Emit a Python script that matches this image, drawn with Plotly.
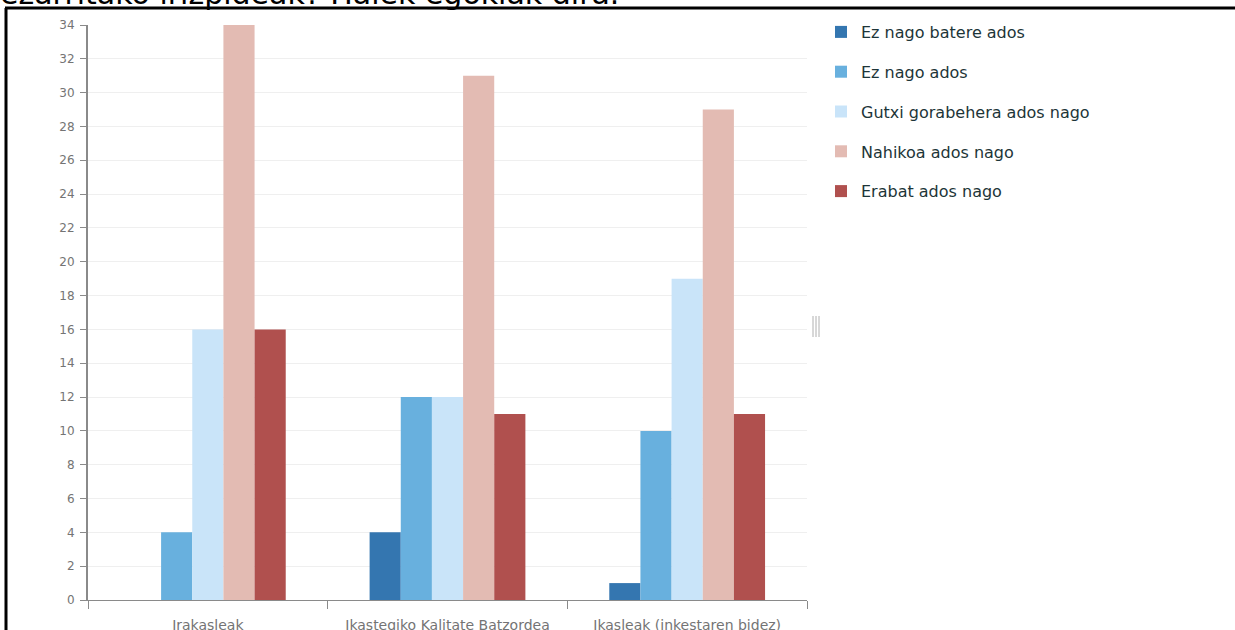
import plotly.graph_objects as go

categories = ["Irakasleak", "Ikastegiko Kalitate Batzordea", "Ikasleak (inkestaren bidez)"]
series_names = ["Ez nago batere ados", "Ez nago ados", "Gutxi gorabehera ados nago",
                "Nahikoa ados nago", "Erabat ados nago"]
ez_batere = [0, 4, 1]
ez_ados = [4, 12, 10]
gutxi = [16, 12, 19]
nahikoa = [34, 31, 29]
erabat = [16, 11, 11]
y_ticks = list(range(0, 35, 2))

colors = ["#3476b0", "#68b0de", "#c9e4f9", "#e3bbb3", "#b0504e"]
values = [ez_batere, ez_ados, gutxi, nahikoa, erabat]

W, H = 1235, 630
L, R, T, B = 88, 428, 25, 30
pw, ph = W - L - R, H - T - B

def px(x):
    return (x - L) / pw

def py(y):
    return (H - B - y) / ph

fig = go.Figure()
for i, (name, vals) in enumerate(zip(series_names, values)):
    fig.add_trace(go.Bar(x=categories, y=vals, name=name, marker_color=colors[i],
                         marker_line_width=0, legendgroup=str(i)))

fig.update_layout(
    width=W, height=H,
    margin=dict(l=L, r=R, t=T, b=B),
    barmode="group", bargap=0.35, bargroupgap=0,
    plot_bgcolor="white", paper_bgcolor="white",
    font=dict(family="DejaVu Sans", color="#666666", size=11),
    legend=dict(x=px(821), y=py(15), xanchor="left", yanchor="top",
                font=dict(size=16, color="#1d3538", family="DejaVu Sans"),
                tracegroupgap=16, itemwidth=30),
    showlegend=True,
)
fig.update_yaxes(range=[0, 34], tickvals=y_ticks, showgrid=True, gridcolor="#efefef",
                 showline=True, linecolor="#8a8a8a", linewidth=2, ticks="outside",
                 ticklen=6, tickcolor="#8a8a8a", zeroline=False, automargin=False,
                 ticklabelstandoff=3,
                 tickfont=dict(size=12, color="#747474"))
fig.update_xaxes(showline=True, linecolor="#8a8a8a", linewidth=1, ticks="outside",
                 tickson="boundaries", ticklen=8, tickcolor="#8a8a8a",
                 ticklabelstandoff=12, automargin=False,
                 tickfont=dict(size=14, color="#747474"))

# page frame
fig.add_shape(type="line", xref="paper", yref="paper", x0=px(6), x1=px(6), y0=py(635), y1=py(8),
              line=dict(color="black", width=3))
fig.add_shape(type="line", xref="paper", yref="paper", x0=px(5), x1=px(1240), y0=py(8), y1=py(8),
              line=dict(color="black", width=3))
# resize grip
for gx in [813, 816, 819]:
    fig.add_shape(type="line", xref="paper", yref="paper", x0=px(gx), x1=px(gx), y0=py(316), y1=py(337),
                  line=dict(color="#b0b0b0", width=1))

# clipped heading text
fig.add_annotation(text="ezarritako irizpideak? Haiek egokiak dira.", xref="paper", yref="paper",
                   x=px(-2), y=py(13), xanchor="left", yanchor="bottom", showarrow=False,
                   font=dict(size=30, color="black", family="DejaVu Sans"))

fig.write_html("out.html", config={"displayModeBar": False},
               post_script="document.body.style.margin='0';document.body.style.overflow='hidden';")
